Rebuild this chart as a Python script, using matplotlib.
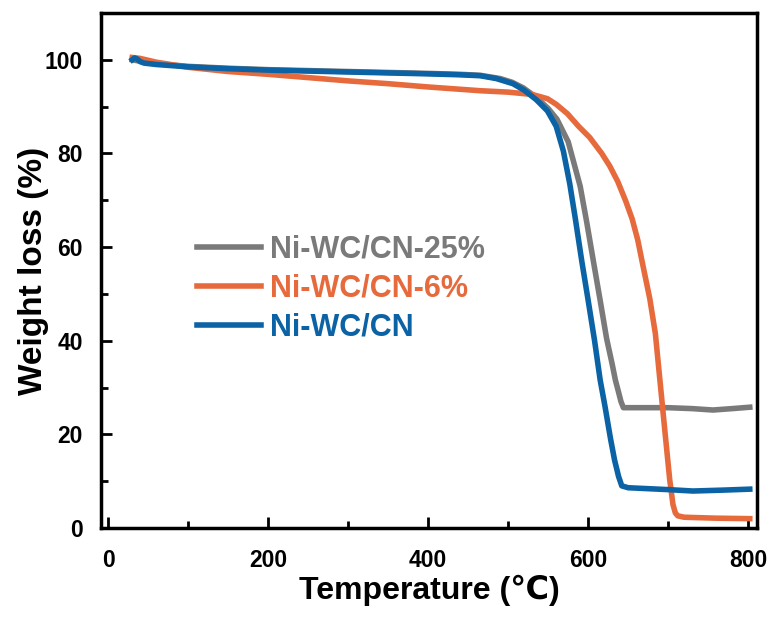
import numpy as np
import matplotlib.pyplot as plt

plt.rcParams['font.family'] = ['Liberation Sans', 'DejaVu Sans']
plt.rcParams['font.weight'] = 'bold'

# Ni-WC/CN-25%
t_gray = [30, 40, 60, 100, 150, 200, 250, 300, 350, 400, 440, 465, 490, 505, 519,
          535, 550, 561, 575, 590, 598, 607, 615, 623, 630, 634, 638, 641, 644,
          660, 700, 730, 756, 780, 802]
w_gray = [100.0, 99.7, 99.2, 98.6, 98.2, 97.9, 97.7, 97.5, 97.3, 97.1, 96.9, 96.7,
          96.0, 95.2, 94.0, 92.0, 89.6, 87.3, 82.5, 73.0, 65.5, 56.5, 48.6, 40.5,
          35.0, 31.6, 29.0, 27.0, 25.7, 25.7, 25.7, 25.5, 25.2, 25.5, 25.8]

# Ni-WC/CN-6%
t_orange = [30, 40, 60, 100, 150, 200, 250, 300, 350, 400, 465, 500, 530, 549, 560,
            574, 588, 602, 617, 627, 637, 647, 655, 662, 669, 677, 684, 690, 696,
            702, 706, 709, 712, 720, 760, 802]
w_orange = [100.5, 100.3, 99.5, 98.4, 97.5, 96.9, 96.2, 95.5, 94.9, 94.2, 93.4, 93.1,
            92.6, 91.7, 90.5, 88.5, 85.8, 83.4, 80.0, 77.3, 74.0, 69.8, 66.0, 61.5,
            55.6, 49.0, 41.5, 31.0, 20.5, 10.2, 5.0, 3.2, 2.6, 2.3, 2.1, 2.0]

# Ni-WC/CN
t_blue = [30, 33, 36, 40, 45, 60, 100, 150, 200, 250, 300, 350, 400, 440, 465, 485,
          506, 520, 535, 549, 560, 569, 577, 584, 592, 600, 608, 615, 621, 628, 633,
          638, 642, 650, 700, 731, 770, 802]
w_blue = [100.0, 100.4, 100.2, 99.6, 99.3, 99.0, 98.5, 98.1, 97.8, 97.6, 97.4, 97.2,
          97.0, 96.8, 96.6, 96.0, 94.9, 93.5, 91.5, 89.1, 85.8, 80.5, 73.5, 66.0,
          57.0, 48.6, 40.0, 31.6, 26.0, 19.0, 14.5, 11.0, 9.0, 8.6, 8.2, 7.9, 8.1, 8.3]

labels = ['Ni-WC/CN-25%', 'Ni-WC/CN-6%', 'Ni-WC/CN']
colors = ['#7a7a7a', '#e66a3c', '#0b63a5']

fig = plt.figure(figsize=(7.74, 6.19), dpi=100)
ax = fig.add_axes([0.1305, 0.147, 0.8475, 0.832])

ax.plot(t_gray, w_gray, color=colors[0], lw=4, label=labels[0])
ax.plot(t_orange, w_orange, color=colors[1], lw=4, label=labels[1])
ax.plot(t_blue, w_blue, color=colors[2], lw=4, label=labels[2])

ax.set_xlim(-9, 811)
ax.set_ylim(0, 110)
ax.set_xticks([0, 200, 400, 600, 800])
ax.set_xticks([100, 300, 500, 700], minor=True)
ax.set_yticks([0, 20, 40, 60, 80, 100])
ax.set_yticks([10, 30, 50, 70, 90], minor=True)
ax.tick_params(which='both', direction='in', width=2, labelsize=16.5)
ax.tick_params(axis='x', which='major', length=8, pad=15)
ax.tick_params(axis='y', which='major', length=8, pad=13)
ax.tick_params(which='minor', length=5)
for s in ax.spines.values():
    s.set_linewidth(2.5)

ax.set_xlabel('Temperature (\u2103)', fontsize=23, fontweight='bold')
ax.set_ylabel('Weight loss (%)', fontsize=24, fontweight='bold')
ax.xaxis.set_label_coords(0.5, -0.09)
ax.yaxis.set_label_coords(-0.08, 0.5)

leg = ax.legend(loc='center left', bbox_to_anchor=(0.146, 0.465), frameon=False,
                fontsize=22, labelcolor='linecolor', handlelength=2.1,
                handletextpad=0.3, labelspacing=0.3, borderpad=0, borderaxespad=0)

plt.savefig('out.png', dpi=100)
